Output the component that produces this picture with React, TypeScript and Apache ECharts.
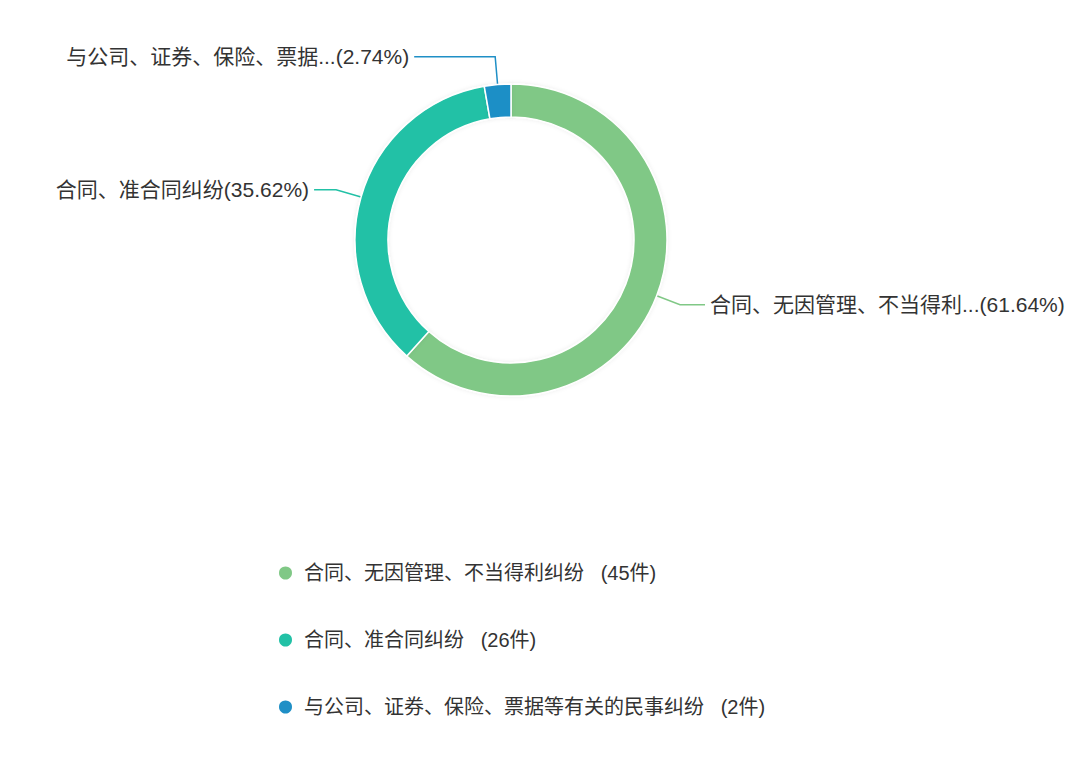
import { useEffect, useRef } from "react";
import * as echarts from "echarts";

const categories = [
  "合同、无因管理、不当得利纠纷",
  "合同、准合同纠纷",
  "与公司、证券、保险、票据等有关的民事纠纷",
];
const counts = [45, 26, 2];
const colors = ["#80c886", "#22c1a6", "#1f8fc6"];
// 每项引导线长度（第一段 / 第二段）
const lineLen = [25, 26, 28];
const lineLen2 = [25, 22, 81];

const FONT = "'Liberation Sans', 'Noto Sans CJK SC', sans-serif";

export default function App() {
  const chartRef = useRef<HTMLDivElement>(null);

  useEffect(() => {
    const myChart = echarts.init(chartRef.current!, null, { renderer: "svg" });

    const option = {
      animation: false,
      color: colors,
      legend: {
        orient: "vertical",
        left: 272,
        top: 558,
        icon: "circle",
        itemWidth: 15,
        itemHeight: 15,
        itemGap: 47,
        textStyle: {
          fontSize: 20,
          color: "#333",
          fontFamily: FONT,
          padding: [0, 0, 0, 6],
        },
        formatter: (name: string) => {
          const i = categories.indexOf(name);
          return `${name}   (${counts[i]}件)`;
        },
      },
      series: [
        {
          type: "pie",
          center: [511, 240],
          radius: [123, 156],
          avoidLabelOverlap: false,
          itemStyle: {
            borderColor: "#fff",
            borderWidth: 1.5,
            shadowBlur: 4,
            shadowColor: "rgba(0,0,0,0.08)",
          },
          label: {
            show: true,
            fontSize: 21,
            color: "#333",
            fontFamily: FONT,
            formatter: (p: any) => {
              const n: string = p.name;
              const short = n.length > 12 ? n.slice(0, 12) + "..." : n;
              return `${short}(${p.percent.toFixed(2)}%)`;
            },
          },
          labelLine: {
            length: 25,
            length2: 24,
            lineStyle: { width: 1.5 },
          },
          data: categories.map((name, i) => ({
            name,
            value: counts[i],
            labelLine: { length: lineLen[i], length2: lineLen2[i] },
          })),
        },
      ],
    };

    myChart.setOption(option);

    const handleResize = () => myChart.resize();
    window.addEventListener("resize", handleResize);

    return () => {
      window.removeEventListener("resize", handleResize);
      myChart.dispose();
    };
  }, []);

  return (
    <div
      ref={chartRef}
      style={{
        position: "fixed",
        left: 0,
        top: 0,
        width: "1080px",
        height: "759px",
        background: "#fff",
      }}
    />
  );
}
